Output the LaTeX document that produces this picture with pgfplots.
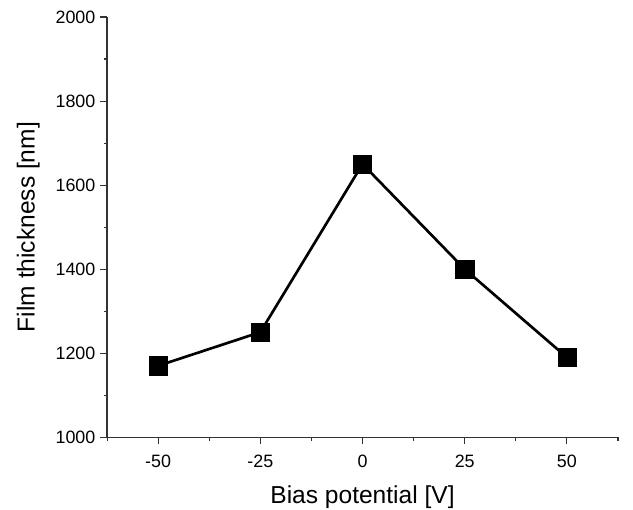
\documentclass[border=0pt]{standalone}
\usepackage{fontspec}
\setmainfont{Liberation Sans}
\usepackage{pgfplots}
\pgfplotsset{compat=1.18}
\begin{document}
\begin{tikzpicture}
\begin{axis}[
    scale only axis, width=383pt, height=315pt,
    xmin=-62.5, xmax=62.5, ymin=1000, ymax=2000,
    axis lines*=left,
    axis line style={black!80, line width=0.9pt, -},
    tick align=outside,
    major tick length=5.25pt, minor tick length=2.6pt,
    every tick/.style={black!80, line width=0.8pt},
    xtick={-50,-25,0,25,50},
    minor xtick={-62.5,-37.5,...,62.5},
    ytick={1000,1200,...,2000},
    minor ytick={1100,1300,...,1900},
    /pgf/number format/assume math mode=true,
    /pgf/number format/1000 sep={},
    ticklabel style={font=\fontsize{13.4}{16}\selectfont},
    xticklabel shift=4.5pt,
    label style={font=\fontsize{18.4}{22}\selectfont},
    xlabel shift=7pt, ylabel shift=5pt,
    xlabel={Bias potential [V]},
    ylabel={Film thickness [nm]},
]
\addplot[black, line width=2pt, mark=square*, mark size=6.8pt,
         mark options={solid, line width=0.4pt}] coordinates {
    (-50,1170) (-25,1250) (0,1650) (25,1400) (50,1190)
};
\end{axis}
\pgfresetboundingbox
\path ([shift={(-80.25pt,-54pt)}]current axis.south west)
      rectangle ([shift={(11.25pt,12.75pt)}]current axis.north east);
\end{tikzpicture}
\end{document}
